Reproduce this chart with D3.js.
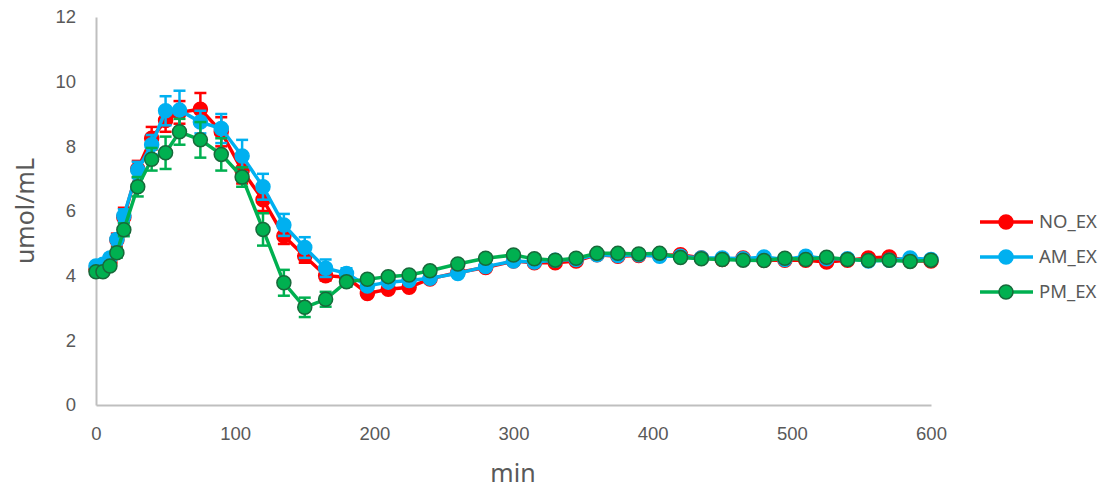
<!DOCTYPE html>
<html>
<head>
<meta charset="utf-8">
<script src="https://cdn.jsdelivr.net/npm/d3@7"></script>
<style>
  body { margin: 0; background: #fff; }
  svg { font-family: "Noto Sans", "Open Sans", sans-serif; }
</style>
</head>
<body>
<div id="chart"></div>
<script>
// sample times (min)
var times = [0,5,10,15,20,30,40,50,60,75,90,105,120,135,150,165,180,195,210,225,240,260,280,300,315,330,345,360,375,390,405,420,435,450,465,480,495,510,525,540,555,570,585,600];

// series values (umol/mL)
var noEx = [4.2,4.25,4.4,5.1,5.8,7.3,8.25,8.8,9.05,9.15,8.45,7.25,6.35,5.23,4.6,4.0,3.95,3.45,3.58,3.64,3.9,4.1,4.25,4.45,4.4,4.4,4.45,4.65,4.6,4.62,4.62,4.65,4.55,4.5,4.55,4.48,4.48,4.48,4.42,4.48,4.55,4.58,4.45,4.45];
var amEx = [4.3,4.35,4.55,5.12,5.85,7.27,8.05,9.1,9.12,8.75,8.55,7.7,6.75,5.57,4.87,4.23,4.07,3.68,3.8,3.85,3.92,4.07,4.28,4.45,4.42,4.48,4.5,4.65,4.62,4.65,4.6,4.6,4.55,4.55,4.52,4.58,4.5,4.6,4.52,4.52,4.45,4.48,4.55,4.5];
var pmEx = [4.12,4.12,4.3,4.71,5.42,6.75,7.6,7.8,8.45,8.2,7.75,7.05,5.43,3.78,3.02,3.27,3.81,3.89,3.97,4.02,4.15,4.36,4.54,4.64,4.52,4.48,4.54,4.69,4.69,4.67,4.69,4.56,4.52,4.5,4.48,4.47,4.54,4.5,4.57,4.5,4.47,4.48,4.44,4.48];

// error bar half-widths
var noErr = [0.1,0.1,0.1,0.2,0.3,0.25,0.35,0.35,0.35,0.5,0.45,0.4,0.35,0.25,0.2,0.15,0.1,0.1,0.1,0.1,0.1,0.1,0.1,0.1,0.1,0.1,0.1,0.1,0.1,0.1,0.1,0.1,0.1,0.1,0.1,0.1,0.1,0.1,0.1,0.1,0.1,0.1,0.1,0.1];
var amErr = [0.1,0.1,0.12,0.15,0.2,0.25,0.3,0.45,0.6,0.35,0.45,0.5,0.4,0.34,0.32,0.27,0.16,0.12,0.1,0.1,0.1,0.1,0.1,0.1,0.1,0.1,0.1,0.1,0.1,0.1,0.1,0.1,0.1,0.1,0.1,0.1,0.1,0.1,0.1,0.1,0.1,0.1,0.1,0.1];
var pmErr = [0.1,0.1,0.1,0.15,0.2,0.3,0.35,0.5,0.4,0.55,0.5,0.3,0.5,0.4,0.3,0.23,0.15,0.1,0.1,0.1,0.1,0.1,0.1,0.1,0.1,0.1,0.1,0.1,0.1,0.1,0.1,0.1,0.1,0.1,0.1,0.1,0.1,0.1,0.1,0.1,0.1,0.1,0.1,0.1];

var seriesNames = ["NO_EX","AM_EX","PM_EX"];
var xTicks = [0,100,200,300,400,500,600];
var yTicks = [0,2,4,6,8,10,12];

var W = 1114, H = 490;
var plotLeft = 96, plotRight = 931, plotTop = 17, plotBottom = 405;

var series = [
  {name: seriesNames[0], vals: noEx, err: noErr, color: "#FF0000", stroke: "#FF0000"},
  {name: seriesNames[1], vals: amEx, err: amErr, color: "#00B0F0", stroke: "#00B0F0"},
  {name: seriesNames[2], vals: pmEx, err: pmErr, color: "#00B050", stroke: "#17693A"}
];

var x = d3.scaleLinear().domain([0,600]).range([plotLeft,plotRight]);
var y = d3.scaleLinear().domain([0,12]).range([plotBottom,plotTop]);

var svg = d3.select("#chart").append("svg")
  .attr("width",W).attr("height",H);

// axes
var xAxis = svg.append("g").attr("transform","translate(0,"+plotBottom+")")
  .call(d3.axisBottom(x).tickValues(xTicks).tickSize(0).tickPadding(22));
var yAxis = svg.append("g").attr("transform","translate("+plotLeft+",0)")
  .call(d3.axisLeft(y).tickValues(yTicks).tickSize(0).tickPadding(20));
[xAxis,yAxis].forEach(function(a){
  a.select(".domain").attr("stroke","#BFBFBF").attr("stroke-width",2);
  a.selectAll("text").attr("fill","#595959").style("font-size","18.5px");
});

// axis titles
svg.append("text").attr("x",513).attr("y",482).attr("text-anchor","middle")
  .attr("fill","#595959").style("font-size","25px").text("min");
svg.append("text").attr("transform","translate(34,211) rotate(-90)").attr("text-anchor","middle")
  .attr("fill","#595959").style("font-size","25px").text("umol/mL");

var line = d3.line().x(function(d){return x(d.t);}).y(function(d){return y(d.v);});

series.forEach(function(s){
  var pts = times.map(function(t,i){ return {t:t, v:s.vals[i], e:s.err[i]}; });
  var g = svg.append("g");
  // error bars
  var eb = g.selectAll(".eb").data(pts).enter().append("g")
    .attr("stroke",s.color).attr("stroke-width",2.5);
  eb.append("line").attr("x1",function(d){return x(d.t);}).attr("x2",function(d){return x(d.t);})
    .attr("y1",function(d){return y(d.v-d.e);}).attr("y2",function(d){return y(d.v+d.e);});
  eb.append("line").attr("x1",function(d){return x(d.t)-6;}).attr("x2",function(d){return x(d.t)+6;})
    .attr("y1",function(d){return y(d.v+d.e);}).attr("y2",function(d){return y(d.v+d.e);});
  eb.append("line").attr("x1",function(d){return x(d.t)-6;}).attr("x2",function(d){return x(d.t)+6;})
    .attr("y1",function(d){return y(d.v-d.e);}).attr("y2",function(d){return y(d.v-d.e);});
  // line
  g.append("path").datum(pts).attr("d",line).attr("fill","none")
    .attr("stroke",s.color).attr("stroke-width",3.5);
  // markers
  g.selectAll("circle").data(pts).enter().append("circle")
    .attr("cx",function(d){return x(d.t);}).attr("cy",function(d){return y(d.v);})
    .attr("r",7).attr("fill",s.color).attr("stroke",s.stroke).attr("stroke-width",1.5);
});

// legend
var legend = svg.append("g");
series.forEach(function(s,i){
  var ly = 222 + i*35;
  legend.append("line").attr("x1",980).attr("x2",1033).attr("y1",ly).attr("y2",ly)
    .attr("stroke",s.color).attr("stroke-width",3.5);
  legend.append("circle").attr("cx",1006).attr("cy",ly).attr("r",7)
    .attr("fill",s.color).attr("stroke",s.stroke).attr("stroke-width",1.5);
  legend.append("text").attr("x",1039).attr("y",ly).attr("dy","0.35em")
    .attr("fill","#595959").style("font-size","18.5px").text(s.name);
});
</script>
</body>
</html>
